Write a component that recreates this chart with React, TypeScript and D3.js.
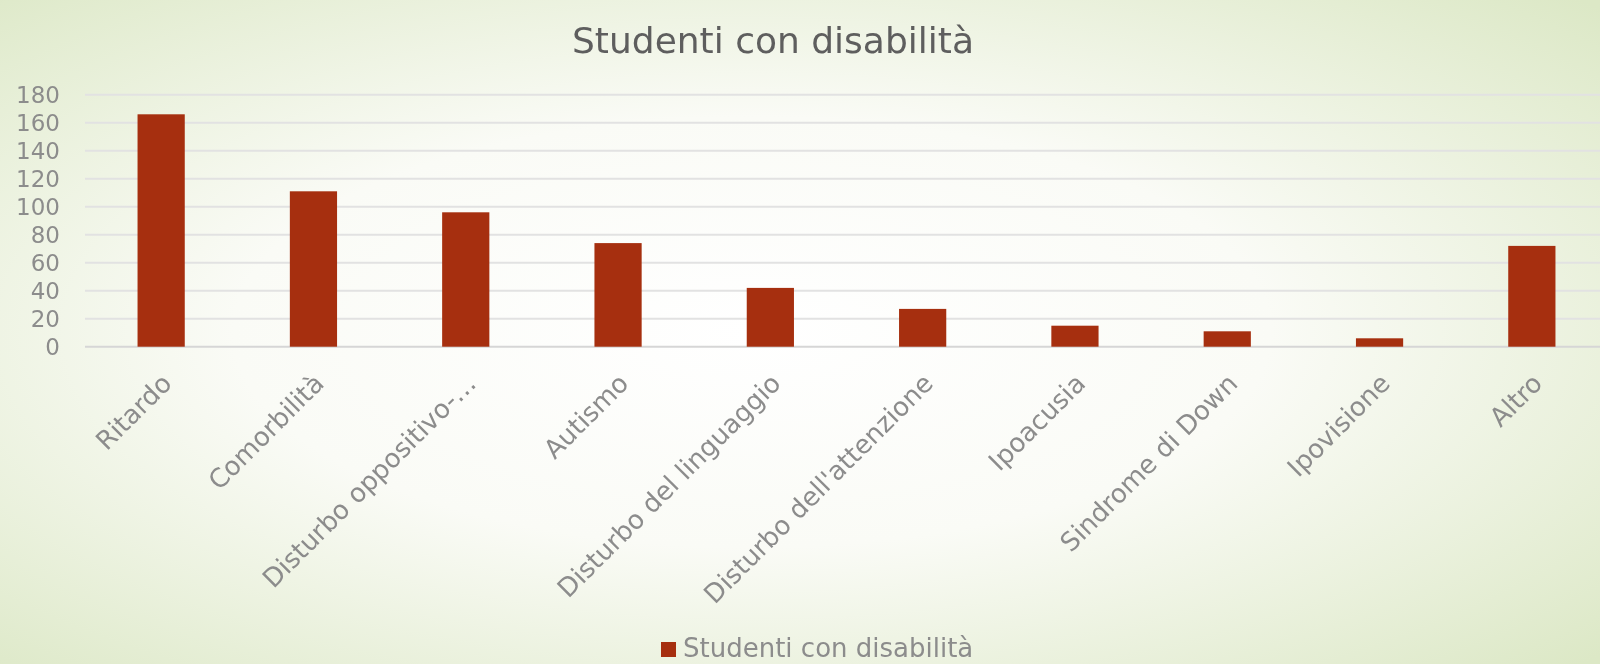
import React from "react";
import * as d3 from "d3";

const categories = [
  "Ritardo",
  "Comorbilità",
  "Disturbo oppositivo-…",
  "Autismo",
  "Disturbo del linguaggio",
  "Disturbo dell'attenzione",
  "Ipoacusia",
  "Sindrome di Down",
  "Ipovisione",
  "Altro",
];
const values = [166, 111, 96, 74, 42, 27, 15, 11, 6, 72];
const yTicks = [0, 20, 40, 60, 80, 100, 120, 140, 160, 180];
const seriesName = "Studenti con disabilità";
const title = "Studenti con disabilità";

const W = 1600;
const H = 664;
const FONT = "'DejaVu Sans', sans-serif";

export default function App() {
  const x = d3
    .scaleBand<string>()
    .domain(categories)
    .range([85, 1608])
    .paddingInner(0.69)
    .paddingOuter(0.345);
  const y = d3.scaleLinear().domain([0, 180]).range([346.7, 94.7]);

  return (
    <div style={{ position: "fixed", left: 0, top: 0, width: W, height: H }}>
      <svg width={W} height={H} style={{ display: "block" }}>
        <defs>
          <radialGradient id="bg" cx="47%" cy="50%" r="72%" fx="47%" fy="50%">
            <stop offset="0%" stopColor="#ffffff" />
            <stop offset="45%" stopColor="#fafbf6" />
            <stop offset="100%" stopColor="#dce8c6" />
          </radialGradient>
        </defs>
        <rect x={0} y={0} width={W} height={H} fill="url(#bg)" />
        <text
          x={773}
          y={53}
          textAnchor="middle"
          fontFamily={FONT}
          fontSize={36}
          fill="#5e5e5e"
        >
          {title}
        </text>
        {yTicks.map((t) => (
          <g key={t}>
            <line
              x1={85}
              x2={1600}
              y1={y(t)}
              y2={y(t)}
              stroke={t === 0 ? "#d6d6d6" : "#e2e2e2"}
              strokeWidth={2}
            />
            <text
              x={60}
              y={y(t)}
              dy="0.36em"
              textAnchor="end"
              fontFamily={FONT}
              fontSize={23}
              fill="#8c8c8c"
            >
              {t}
            </text>
          </g>
        ))}
        {categories.map((c, i) => (
          <rect
            key={c}
            x={x(c)}
            y={y(values[i])}
            width={x.bandwidth()}
            height={y(0) - y(values[i])}
            fill="#a62f0f"
          />
        ))}
        {categories.map((c) => {
          const cx = (x(c) as number) + x.bandwidth() / 2;
          return (
            <text
              key={c}
              transform={`translate(${cx + 12},${385}) rotate(-45)`}
              textAnchor="end"
              fontFamily={FONT}
              fontSize={26}
              fill="#8c8c8c"
            >
              {c}
            </text>
          );
        })}
        <rect x={661} y={642} width={15} height={15} fill="#a62f0f" />
        <text
          x={683}
          y={657}
          fontFamily={FONT}
          fontSize={26}
          fill="#8c8c8c"
        >
          {seriesName}
        </text>
      </svg>
    </div>
  );
}
